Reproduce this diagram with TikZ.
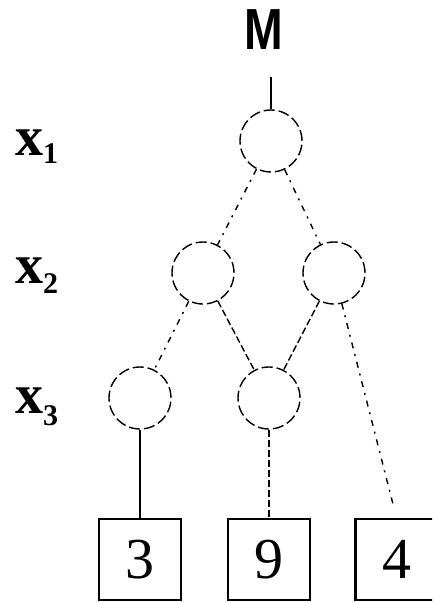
\documentclass[tikz,border=0pt]{standalone}
\usepackage{fontspec}
\setmainfont{Liberation Serif}
\newfontfamily\headsans{Liberation Sans}
\begin{document}
\begin{tikzpicture}[x=1pt,y=-1pt,
  varnode/.style={circle,draw,line width=1.4pt,minimum size=62pt,inner sep=0pt,
    dash pattern=on 11pt off 4pt},
  leafbox/.style={draw,line width=2.2pt,minimum width=82pt,minimum height=81pt,inner sep=0pt,
    font=\fontsize{58}{58}\selectfont},
  levellabel/.style={anchor=base west,inner sep=0pt,font=\fontsize{56}{56}\selectfont\bfseries},
  solidedge/.style={line width=1.4pt},
  dashedge/.style={line width=1.4pt,dash pattern=on 7pt off 3pt},
  dotedge/.style={line width=1.4pt,dash pattern=on 6pt off 6pt on 2pt off 6pt},
  ]
\useasboundingbox (0,0) rectangle (432,602);
\clip (0,0) rectangle (432,602);

% root symbol
\node[anchor=base,inner sep=0pt,font=\fontsize{58}{58}\selectfont\headsans\bfseries]
  (M) at (264,50) {\scalebox{0.8}[1]{M}};

% variable levels
\node[levellabel] (l1) at (15,155) {x\raisebox{-8pt}{\fontsize{30}{30}\selectfont 1}};
\node[levellabel] (l2) at (15,283) {x\raisebox{-10pt}{\fontsize{30}{30}\selectfont 2}};
\node[levellabel] (l3) at (15,413) {x\raisebox{-12pt}{\fontsize{30}{30}\selectfont 3}};

% decision nodes
\node[varnode] (x1)  at (271,141) {};
\node[varnode] (x2a) at (203,273) {};
\node[varnode] (x2b) at (334,273) {};
\node[varnode] (x3a) at (140,398) {};
\node[varnode] (x3b) at (269,398) {};

% terminal values
\node[leafbox] (b3) at (140,559.5) {3};
\node[leafbox] (b9) at (269,559.5) {9};
\node[leafbox] (b4) at (396.5,559.5) {4};

% connectors
\draw[solidedge,shorten >=27pt] (x1.north) -- (x1.north |- M.south);
\draw[dotedge] (x1) -- (x2a);
\draw[dotedge] (x1) -- (x2b);
\draw[dotedge] (x2a) -- (x3a);
\draw[dashedge] (x2a) -- (x3b);
\draw[dashedge] (x2b) -- (x3b);
\draw[dotedge,shorten >=11pt] (x2b) -- (b4.north);
\draw[solidedge] (x3a) -- (b3.north);
\draw[dashedge] (x3b) -- (b9.north);
\end{tikzpicture}
\end{document}
